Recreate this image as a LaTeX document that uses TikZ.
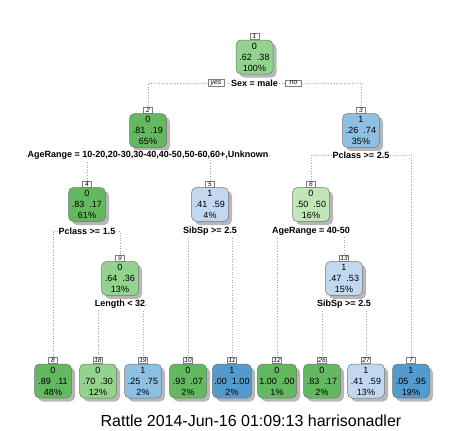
\documentclass[tikz,border=0pt]{standalone}
\usepackage{fontspec}
\setmainfont{Liberation Sans}
\usetikzlibrary{positioning,shadows,backgrounds}

\definecolor{greenD}{RGB}{99,184,96}
\definecolor{greenM}{RGB}{146,211,141}
\definecolor{greenL}{RGB}{193,231,184}
\definecolor{blueD}{RGB}{84,155,205}
\definecolor{blueM}{RGB}{141,192,226}
\definecolor{blueL}{RGB}{193,216,240}

\tikzstyle{box}=[rounded corners=5pt,draw=black!55,line width=0.5pt,align=center,
  minimum width=37pt,minimum height=34pt,inner xsep=2pt,inner ysep=0pt,
  font=\fontsize{9}{11}\selectfont,
  drop shadow={shadow xshift=3.5pt,shadow yshift=-3.5pt,fill=black!40,opacity=0.7}]
\tikzstyle{num}=[draw=black!50,fill=white,inner xsep=1pt,inner ysep=0.8pt,minimum width=9pt,
  font=\fontsize{6.5}{6.5}\selectfont\itshape,anchor=south]
\tikzstyle{split}=[fill=white,inner sep=1pt,font=\fontsize{9}{10}\selectfont\bfseries]
\tikzstyle{branch}=[draw=black!50,fill=white,inner xsep=1pt,inner ysep=1pt,minimum width=16pt,
  font=\fontsize{7}{7}\selectfont\itshape]
\tikzstyle{edge}=[dotted,draw=black!35,line width=0.6pt]

\begin{document}
\begin{tikzpicture}[x=1pt,y=-1pt]
    \useasboundingbox (0,0) rectangle (464,431);
    %Inner nodes
    \foreach \px/\py/\name/\col/\cls/\pa/\pb/\pct in {254.5/57/1/greenM/0/.62/.38/100,
        148/130.5/2/greenD/0/.81/.19/65, 361/130.5/3/blueM/1/.26/.74/35,
        87/204.5/4/greenD/0/.83/.17/61, 210/204.5/5/blueL/1/.41/.59/4,
        311/204.5/6/greenL/0/.50/.50/16, 120/278.5/9/greenM/0/.64/.36/13,
        344/278.5/13/blueL/1/.47/.53/15}
    {
    \node[box,fill=\col] (n\name) at (\px,\py) {\cls\\\pa\ \ \pb\\\pct\%};
    \node[num] (l\name) at (n\name.north) {\name};
    }
    %Leaf nodes
    \foreach \px/\name/\col/\cls/\pa/\pb/\pct in {53/8/greenD/0/.89/.11/48,
        98/18/greenM/0/.70/.30/12, 143/19/blueM/1/.25/.75/2,
        188/10/greenD/0/.93/.07/2, 232/11/blueD/1/.00/1.00/2,
        277/12/greenD/0/1.00/.00/1, 322/26/greenD/0/.83/.17/2,
        366/27/blueL/1/.41/.59/13, 411/7/blueD/1/.05/.95/19}
    {
    \node[box,fill=\col] (n\name) at (\px,381) {\cls\\\pa\ \ \pb\\\pct\%};
    \node[num] (l\name) at (n\name.north) {\name};
    }
    %Splits
    \node[split] (s1) at (254.5,83) {Sex = male};
    \node[split] (s2) at (148,155) {AgeRange = 10-20,20-30,30-40,40-50,50-60,60+,Unknown};
    \node[split] (s3) at (361,155) {Pclass >= 2.5};
    \node[split] (s4) at (87,231) {Pclass >= 1.5};
    \node[split] (s5) at (210,231) {SibSp >= 2.5};
    \node[split] (s6) at (311,231) {AgeRange = 40-50};
    \node[split] (s9) at (120,304) {Length < 32};
    \node[split] (s13) at (344,304) {SibSp >= 2.5};
    \node[branch] (yes) at (216,83) {yes};
    \node[branch] (no) at (293.5,83) {no};
    %Edges
    \begin{scope}[on background layer]
    \foreach \a/\b in {1/2, 1/3, 2/4, 2/5, 3/6, 3/7, 4/8, 4/9, 9/18, 9/19,
                       5/10, 5/11, 6/12, 6/13, 13/26, 13/27}
    \draw[edge] (s\a) -| (l\b);
    \end{scope}
    \node[font=\fontsize{16}{16}\selectfont,anchor=base] (stamp) at (251,426)
        {Rattle 2014-Jun-16 01:09:13 harrisonadler};
\end{tikzpicture}
\end{document}
